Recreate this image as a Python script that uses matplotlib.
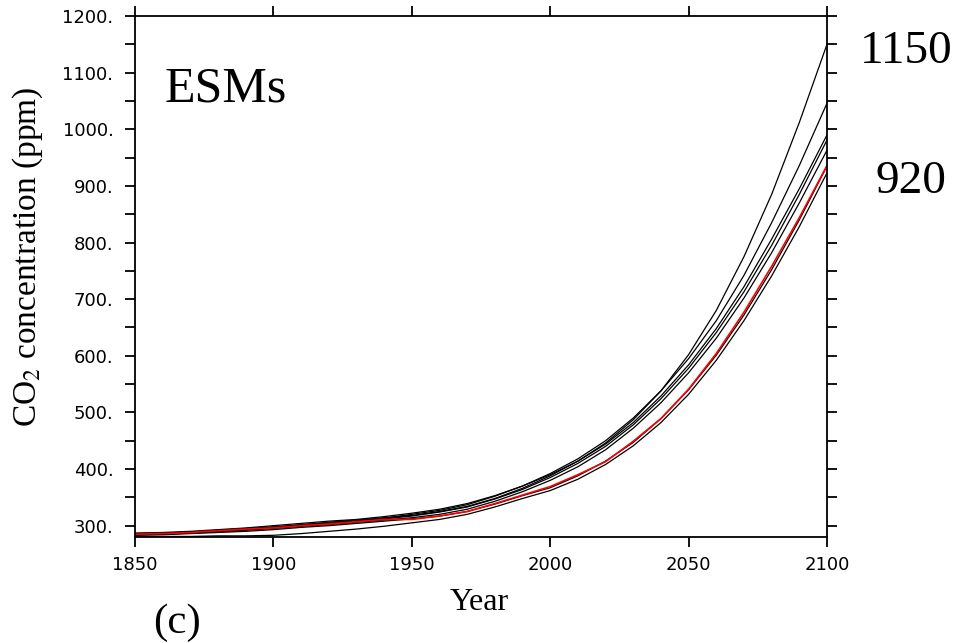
import numpy as np
import matplotlib
matplotlib.use('Agg')
from matplotlib import pyplot as plt
from matplotlib.ticker import MultipleLocator, FormatStrFormatter

# decadal values, 1850..2100
years = list(range(1850, 2101, 10))

rcp85 = [285, 286, 288, 291, 294, 296, 300, 303, 307, 311, 311, 317, 325,
         339, 354, 369, 390, 413, 449, 489, 541, 604, 677, 758, 844, 936]

esm1 = [286, 287, 289, 291, 294, 298, 301, 306, 309, 314, 318, 325, 334,
        348, 366, 388, 414, 446, 487, 538, 602, 680, 775, 885, 1012, 1150]
esm2 = [285, 287, 288, 292, 295, 297, 302, 305, 310, 313, 320, 327, 337,
        352, 370, 392, 418, 450, 490, 538, 595, 662, 742, 835, 936, 1046]
esm3 = [287, 288, 290, 293, 296, 300, 304, 308, 311, 316, 322, 329, 339,
        353, 370, 390, 414, 444, 482, 529, 584, 648, 722, 806, 895, 990]
esm4 = [285, 286, 289, 290, 293, 297, 300, 304, 309, 312, 317, 324, 333,
        347, 364, 385, 410, 440, 478, 524, 578, 641, 713, 795, 885, 981]
esm5 = [284, 285, 287, 289, 292, 295, 299, 302, 306, 310, 314, 320, 329,
        343, 360, 380, 404, 434, 472, 517, 570, 631, 702, 782, 870, 963]
esm6 = [283, 284, 286, 288, 290, 293, 297, 300, 304, 308, 312, 317, 325,
        338, 353, 367, 388, 414, 447, 489, 540, 601, 672, 752, 840, 935]
esm7 = [281, 281, 281, 282, 282, 283, 286, 290, 294, 299, 305, 311, 320,
        333, 348, 362, 382, 408, 441, 482, 532, 592, 662, 741, 828, 923]

esms = [esm1, esm2, esm3, esm4, esm5, esm6, esm7]

serif = 'Liberation Serif'

fig = plt.figure(figsize=(9.54, 6.43), dpi=100)
W, H = 954., 643.
ax = fig.add_axes([135/W, 1-537/H, (827-135)/W, (537-16)/H])

for e in esms:
    ax.plot(years, e, color='black', lw=0.9)
ax.plot(years, rcp85, color='red', lw=1.2)

ax.set_xlim(1850, 2100)
ax.set_ylim(280, 1200)
ax.xaxis.set_major_locator(MultipleLocator(50))
ax.yaxis.set_major_locator(MultipleLocator(100))
ax.yaxis.set_minor_locator(MultipleLocator(50))
ax.yaxis.set_major_formatter(FormatStrFormatter('%d.'))

ax.tick_params(which='both', direction='out', length=7.5, width=1.3,
               top=True, right=True, labelsize=13, colors='black')
ax.tick_params(axis='y', pad=8)
ax.tick_params(axis='x', pad=6)
for s in ax.spines.values():
    s.set_linewidth(1.3)

fig.text(28/W, 1-257/H, r'CO$_2$ concentration (ppm)', rotation=90,
         ha='center', va='center', family=serif, fontsize=24,
         math_fontfamily='stix')
fig.text(479/W, 1-610/H, 'Year', ha='center', va='baseline',
         family=serif, fontsize=23)
fig.text(177/W, 1-633/H, '(c)', ha='center', va='baseline',
         family=serif, fontsize=31)
fig.text(165/W, 1-102/H, 'ESMs', ha='left', va='baseline',
         family=serif, fontsize=36)
fig.text(860/W, 1-63/H, '1150', ha='left', va='baseline',
         family=serif, fontsize=34)
fig.text(876/W, 1-193/H, '920', ha='left', va='baseline',
         family=serif, fontsize=34)

fig.savefig('out.png', dpi=100)
